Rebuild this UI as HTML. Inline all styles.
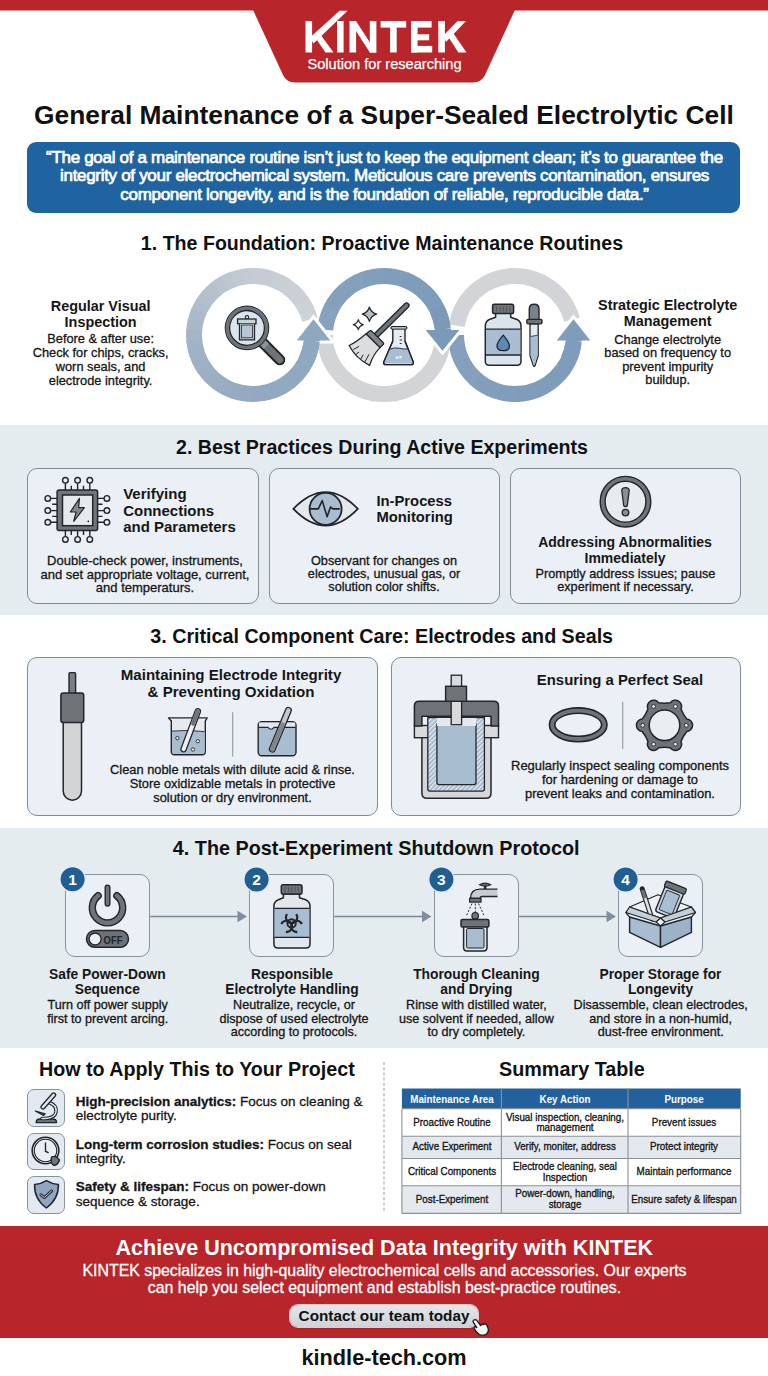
<!DOCTYPE html>
<html><head><meta charset="utf-8"><style>
html,body{margin:0;padding:0;}
body{width:768px;height:1376px;position:relative;overflow:hidden;background:#fff;font-family:"Liberation Sans",sans-serif;}
.a{position:absolute;}
.t{position:absolute;white-space:nowrap;}
svg{overflow:visible;}
</style></head><body>
<svg class="a" style="left:0;top:0" width="768" height="90" viewBox="0 0 768 90">
<rect x="0" y="0" width="768" height="10.5" fill="#b8252b"/>
<path d="M248.5 0 L519.5 0 L485 75 Q481.5 82.5 473 82.5 L295 82.5 Q286.5 82.5 283 75 Z" fill="#b8252b"/>
</svg>
<svg class="a" style="left:0;top:0" width="768" height="90" viewBox="0 0 768 90" fill="#fff"><rect x="305.5" y="21" width="6.6" height="31.5"/><path d="M310 37.5 L339.5 10.8 L347.5 10.8 L313.5 43.5 Z"/><path d="M315.5 38 L320.5 34.5 L333.5 52.5 L325.5 52.5 Z"/><rect x="337" y="21" width="6.6" height="31.5"/><rect x="349.5" y="21" width="6.6" height="31.5"/><rect x="369.8" y="21" width="6.6" height="31.5"/><path d="M349.5 21 L356 21 L376.4 52.5 L369.9 52.5 Z"/><rect x="380.6" y="21" width="25.6" height="6.6"/><rect x="390.1" y="21" width="6.6" height="31.5"/><rect x="411" y="21" width="6.6" height="31.5"/><rect x="411" y="21" width="20.6" height="6.6"/><rect x="411" y="34.3" width="18.2" height="6.0"/><rect x="411" y="45.9" width="21.2" height="6.6"/><rect x="438.3" y="21" width="6.6" height="31.5"/><path d="M443.5 35.5 L457.5 21 L466 21 L446 42 Z"/><path d="M447.5 35.5 L452.5 32 L466.5 52.5 L458.3 52.5 Z"/></svg>
<div class="t" style="top:55.44px;font-size:14.6px;line-height:18px;color:#fff;-webkit-text-stroke:0.3px #fff;left:264.50px;width:240px;text-align:center;-webkit-text-stroke:0.25px #fff;">Solution for researching</div>
<div class="t" style="top:98.67px;font-size:26.35px;line-height:32px;color:#111;font-weight:700;left:4.00px;width:760px;text-align:center;">General Maintenance of a Super-Sealed Electrolytic Cell</div>
<div class="a" style="left:27px;top:141.5px;width:713px;height:71px;background:#1f64a0;border-radius:9px;"></div>
<div class="t" style="top:148.81px;font-size:17px;line-height:18.6px;color:#fff;-webkit-text-stroke:0.7px #fff;letter-spacing:-0.31px;left:24.50px;width:720px;text-align:center;">“The goal of a maintenance routine isn’t just to keep the equipment clean; it’s to guarantee the<br>integrity of your electrochemical system. Meticulous care prevents contamination, ensures<br>component longevity, and is the foundation of reliable, reproducible data.”</div>
<div class="t" style="top:230.91px;font-size:19.6px;line-height:24px;color:#111;font-weight:700;left:82.00px;width:600px;text-align:center;">1. The Foundation: Proactive Maintenance Routines</div>
<div class="t" style="top:297.71px;font-size:14.4px;line-height:16.2px;color:#161616;font-weight:700;left:10.60px;width:180px;text-align:center;">Regular Visual<br>Inspection</div>
<div class="t" style="top:332.46px;font-size:12.8px;line-height:13.7px;color:#161616;-webkit-text-stroke:0.3px #161616;left:10.60px;width:180px;text-align:center;">Before &amp; after use:<br>Check for chips, cracks,<br>worn seals, and<br>electrode integrity.</div>
<div class="t" style="top:296.76px;font-size:14.4px;line-height:16.5px;color:#161616;font-weight:700;left:577.70px;width:180px;text-align:center;">Strategic Electrolyte<br>Management</div>
<div class="t" style="top:332.81px;font-size:12.8px;line-height:13.5px;color:#161616;-webkit-text-stroke:0.3px #161616;left:577.70px;width:180px;text-align:center;">Change electrolyte<br>based on frequency to<br>prevent impurity<br>buildup.</div>
<svg class="a" style="left:0;top:0" width="768" height="430" viewBox="0 0 768 430">
<path d="M456.73 325.77 A59 59 0 0 1 571.99 319.73" fill="none" stroke="#d3d4d7" stroke-width="16" />
<path d="M456.00 335.00 A59 59 0 0 0 461.10 359.00" fill="none" stroke="#85a0bd" stroke-width="16" />
<path d="M460.94 358.64 A59 59 0 0 0 475.24 378.59" fill="none" stroke="#83a0bc" stroke-width="16" />
<path d="M474.95 378.33 A59 59 0 0 0 496.04 390.87" fill="none" stroke="#829ebc" stroke-width="16" />
<path d="M495.67 390.74 A59 59 0 0 0 519.63 393.82" fill="none" stroke="#809ebb" stroke-width="16" />
<path d="M517.06 393.96 A59 59 0 0 0 573.73 340.65" fill="none" stroke="#7f9dbb" stroke-width="16" />
<path d="M566 340.6 L566 334 L582 334 L582 340.6" fill="#7f9dbb"/><path d="M573.5 319.2 L590.3 340.6 L556.7 340.6 Z" fill="#7f9dbb" stroke="#fff" stroke-width="6" stroke-linejoin="miter" paint-order="stroke"/>
<path d="M568.47 359.93 A59 59 0 0 0 573.73 340.65" fill="none" stroke="#7f9dbb" stroke-width="16" />
<rect x="566" y="338" width="16" height="3" fill="#7f9dbb"/><path d="M443.00 335.00 A59 59 0 0 1 325.00 335.00" fill="none" stroke="#d3d4d7" stroke-width="16" />
<path d="M325.22 329.86 A59 59 0 0 1 331.40 308.28" fill="none" stroke="#86a2be" stroke-width="16" />
<path d="M331.08 308.90 A59 59 0 0 1 344.66 291.03" fill="none" stroke="#85a0bd" stroke-width="16" />
<path d="M344.14 291.50 A59 59 0 0 1 363.27 279.76" fill="none" stroke="#83a0bd" stroke-width="16" />
<path d="M362.62 280.01 A59 59 0 0 1 384.70 276.00" fill="none" stroke="#829ebc" stroke-width="16" />
<path d="M384.00 276.00 A59 59 0 0 1 406.03 280.27" fill="none" stroke="#809ebc" stroke-width="16" />
<path d="M405.38 280.01 A59 59 0 0 1 424.37 291.98" fill="none" stroke="#7f9cbb" stroke-width="16" />
<path d="M423.86 291.50 A59 59 0 0 1 437.22 309.53" fill="none" stroke="#7d9cbb" stroke-width="16" />
<path d="M436.92 308.90 A59 59 0 0 1 442.78 329.86" fill="none" stroke="#7c9aba" stroke-width="16" />
<path d="M435 330 L435 336 L451 336 L451 330" fill="#7b9aba"/><path d="M442.5 350.8 L459.3 330 L425.7 330 Z" fill="#7b9aba" stroke="#fff" stroke-width="6" stroke-linejoin="miter" paint-order="stroke"/>
<path d="M437.47 310.07 A59 59 0 0 1 442.73 329.35" fill="none" stroke="#7b9aba" stroke-width="16" />
<rect x="435" y="329" width="16" height="3" fill="#7b9aba"/><path d="M309.99 319.73 A59 59 0 0 0 306.12 309.32" fill="none" stroke="#cfd2d7" stroke-width="16" />
<path d="M306.71 310.59 A59 59 0 0 0 301.18 300.95" fill="none" stroke="#ced2d6" stroke-width="16" />
<path d="M301.98 302.10 A59 59 0 0 0 294.94 293.50" fill="none" stroke="#ccd0d6" stroke-width="16" />
<path d="M295.92 294.51 A59 59 0 0 0 287.56 287.18" fill="none" stroke="#cbd0d5" stroke-width="16" />
<path d="M288.69 288.02 A59 59 0 0 0 279.25 282.16" fill="none" stroke="#caced5" stroke-width="16" />
<path d="M280.50 282.80 A59 59 0 0 0 270.22 278.57" fill="none" stroke="#c8ced5" stroke-width="16" />
<path d="M271.56 278.99 A59 59 0 0 0 260.73 276.51" fill="none" stroke="#c7ccd4" stroke-width="16" />
<path d="M262.12 276.71 A59 59 0 0 0 251.03 276.03" fill="none" stroke="#c5ccd4" stroke-width="16" />
<path d="M252.43 276.00 A59 59 0 0 0 241.38 277.16" fill="none" stroke="#c4cad3" stroke-width="16" />
<path d="M242.75 276.90 A59 59 0 0 0 232.04 279.85" fill="none" stroke="#c1c9d2" stroke-width="16" />
<path d="M233.36 279.37 A59 59 0 0 0 223.28 284.03" fill="none" stroke="#bec6d1" stroke-width="16" />
<path d="M224.50 283.34 A59 59 0 0 0 215.32 289.60" fill="none" stroke="#bac4d0" stroke-width="16" />
<path d="M216.41 288.72 A59 59 0 0 0 208.38 296.40" fill="none" stroke="#b6c1ce" stroke-width="16" />
<path d="M209.31 295.35 A59 59 0 0 0 202.65 304.24" fill="none" stroke="#b2bfcd" stroke-width="16" />
<path d="M203.39 303.06 A59 59 0 0 0 198.29 312.92" fill="none" stroke="#afbdcc" stroke-width="16" />
<path d="M198.83 311.63 A59 59 0 0 0 195.40 322.20" fill="none" stroke="#abbaca" stroke-width="16" />
<path d="M195.72 320.84 A59 59 0 0 0 194.09 331.83" fill="none" stroke="#a8b8c9" stroke-width="16" />
<path d="M194.18 330.43 A59 59 0 0 0 194.36 341.54" fill="none" stroke="#a4b5c8" stroke-width="16" />
<path d="M194.22 340.14 A59 59 0 0 0 196.23 351.07" fill="none" stroke="#a1b3c7" stroke-width="16" />
<path d="M195.86 349.72 A59 59 0 0 0 199.64 360.17" fill="none" stroke="#a0b2c6" stroke-width="16" />
<path d="M199.05 358.89 A59 59 0 0 0 204.49 368.58" fill="none" stroke="#9eb1c5" stroke-width="16" />
<path d="M203.71 367.42 A59 59 0 0 0 210.66 376.09" fill="none" stroke="#9cb0c5" stroke-width="16" />
<path d="M209.69 375.07 A59 59 0 0 0 217.97 382.48" fill="none" stroke="#9aaec4" stroke-width="16" />
<path d="M216.86 381.63 A59 59 0 0 0 226.24 387.58" fill="none" stroke="#99adc3" stroke-width="16" />
<path d="M225.00 386.93 A59 59 0 0 0 235.23 391.26" fill="none" stroke="#97acc3" stroke-width="16" />
<path d="M233.90 390.82 A59 59 0 0 0 244.70 393.41" fill="none" stroke="#96abc2" stroke-width="16" />
<path d="M243.32 393.20 A59 59 0 0 0 254.40 393.98" fill="none" stroke="#94aac1" stroke-width="16" />
<path d="M253.00 394.00 A59 59 0 0 0 264.06 392.95" fill="none" stroke="#93a9c1" stroke-width="16" />
<path d="M262.68 393.20 A59 59 0 0 0 273.42 390.35" fill="none" stroke="#92a9c1" stroke-width="16" />
<path d="M272.10 390.82 A59 59 0 0 0 282.23 386.25" fill="none" stroke="#92a9c1" stroke-width="16" />
<path d="M281.00 386.93 A59 59 0 0 0 290.24 380.76" fill="none" stroke="#91a9c1" stroke-width="16" />
<path d="M289.14 381.63 A59 59 0 0 0 297.24 374.03" fill="none" stroke="#90a8c2" stroke-width="16" />
<path d="M296.31 375.07 A59 59 0 0 0 303.05 366.24" fill="none" stroke="#90a8c2" stroke-width="16" />
<path d="M302.29 367.42 A59 59 0 0 0 307.50 357.61" fill="none" stroke="#8fa8c2" stroke-width="16" />
<path d="M306.95 358.89 A59 59 0 0 0 310.47 348.36" fill="none" stroke="#8fa8c2" stroke-width="16" />
<path d="M310.14 349.72 A59 59 0 0 0 311.78 340.14" fill="none" stroke="#8ea8c2" stroke-width="16" />
<path d="M313.5 319.2 L330.3 340.6 L296.7 340.6 Z" fill="#8ea8c2" stroke="#fff" stroke-width="6" stroke-linejoin="miter" paint-order="stroke"/>
<path d="M306.47 359.93 A59 59 0 0 0 311.73 340.65" fill="none" stroke="#8ea8c2" stroke-width="16" />
<rect x="304" y="338" width="16" height="3" fill="#8ea8c2"/></svg>
<svg class="a" style="left:0;top:0" width="768" height="430" viewBox="0 0 768 430">
<path d="M263 343 L279.8 359.8" stroke="#22262b" stroke-width="11" stroke-linecap="round"/><path d="M263 343 L279.8 359.8" stroke="#6e7379" stroke-width="7" stroke-linecap="round"/><path d="M262 342 L266.5 346.5" stroke="#8d9297" stroke-width="7"/><circle cx="247" cy="327.9" r="21.2" fill="#dbe4ec" stroke="#22262b" stroke-width="2.2"/><circle cx="247" cy="327.9" r="19.6" fill="none" stroke="#6e7379" stroke-width="3.6"/><circle cx="247" cy="327.9" r="17.4" fill="none" stroke="#22262b" stroke-width="1.3"/><circle cx="247" cy="317.3" r="1.7" fill="#eef2f5" stroke="#22262b" stroke-width="1.1"/><rect x="237.6" y="319" width="18.4" height="4.8" fill="#c9d3dc" stroke="#22262b" stroke-width="1.3"/><path d="M239.5 323.8 L239.5 339.8 L254.5 339.8 L254.5 323.8" fill="#c9d3dc" stroke="#22262b" stroke-width="1.3"/><rect x="241.5" y="325" width="11" height="12.8" fill="#b8c6d3" stroke="#22262b" stroke-width="0.8"/><path d="M406.5 305.5 L377 334.5" stroke="#22262b" stroke-width="6.2" stroke-linecap="round"/><path d="M406.5 305.5 L377 334.5" stroke="#6e7379" stroke-width="3.6" stroke-linecap="round"/><path d="M366.1 333.8 Q356 342.5 349.1 345.5 Q356 358.5 369.6 365.4 Q373 354.5 380.1 347.6 Z" fill="#dcdddf" stroke="#22262b" stroke-width="1.3" stroke-linejoin="round"/><path d="M353.2 349.6 L359.1 346.4 M356.1 354.3 L359.1 352 M360.8 359 L363.2 354.6 M364.9 361.9 L369 354.3" stroke="#22262b" stroke-width="1"/><path d="M366.1 333.8 L369.6 330.9 Q370.5 330.2 371.5 330.9 L383.4 342.8 Q384 343.6 383.4 344.3 L380.1 347.6 Z" fill="#7d848b" stroke="#22262b" stroke-width="1.3" stroke-linejoin="round"/><path d="M369.4 307.0 Q370.984 312.616 376.59999999999997 314.2 Q370.984 315.784 369.4 321.4 Q367.816 315.784 362.2 314.2 Q367.816 312.616 369.4 307.0 Z" fill="#b9bec3" stroke="#22262b" stroke-width="1.2" stroke-linejoin="round"/><path d="M358.3 319.6 Q359.40000000000003 323.5 363.3 324.6 Q359.40000000000003 325.70000000000005 358.3 329.6 Q357.2 325.70000000000005 353.3 324.6 Q357.2 323.5 358.3 319.6 Z" fill="#ffffff" stroke="#22262b" stroke-width="1.2" stroke-linejoin="round"/><path d="M392.8 328.5 L405 328.5 L405 341 L413.2 362 Q414 364.6 411 364.6 L386 364.6 Q383 364.6 383.8 362 L392.8 341 Z" fill="#e6ecf1" stroke="#22262b" stroke-width="1.4" stroke-linejoin="round"/><path d="M388.7 349.5 Q395 347 399 348.2 Q404 349.5 408.6 348.8 L413 361.8 Q413.5 363.6 411 363.6 L386 363.6 Q383.6 363.6 384.2 361.8 Z" fill="#a8bcd2"/><path d="M388.7 349.5 Q395 347 399 348.2 Q404 349.5 408.6 348.8" fill="none" stroke="#22262b" stroke-width="0.9"/><path d="M392.8 341 L383.8 362 Q383 364.6 386 364.6 L411 364.6 Q414 364.6 413.2 362 L405 341" fill="none" stroke="#22262b" stroke-width="1.4" stroke-linejoin="round"/><rect x="391" y="326.6" width="15.8" height="2.4" rx="1" fill="#e6ecf1" stroke="#22262b" stroke-width="1.2"/><path d="M399.7 336.5 L401.5 336.5 M399.7 340 L402 340 M399.7 343.5 L401.5 343.5" stroke="#22262b" stroke-width="1"/><circle cx="397" cy="357.5" r="1.5" fill="#e9eef3"/><circle cx="400.5" cy="357.2" r="1.4" fill="#e9eef3"/><path d="M495.6 313.3 L510.7 313.3 L510.7 317.3 L517 319.5 Q521 321.5 521 326 L521 361.3 Q521 365.3 517 365.3 L489.3 365.3 Q485.3 365.3 485.3 361.3 L485.3 326 Q485.3 321.5 489.3 319.5 L495.6 317.3 Z" fill="#dbe4ec" stroke="#22262b" stroke-width="1.5" stroke-linejoin="round"/><rect x="486" y="329.2" width="34.3" height="25.8" fill="#a8bcd2"/><path d="M485.8 329.2 L520.5 329.2 M485.8 355 L520.5 355" stroke="#22262b" stroke-width="1.3"/><rect x="492.6" y="304.3" width="21" height="9.3" rx="1.8" fill="#6e7379" stroke="#22262b" stroke-width="1.5"/><path d="M496.5 306.5 V311.5 M500 306.5 V311.5 M503.3 306.5 V311.5 M506.6 306.5 V311.5 M510 306.5 V311.5" stroke="#4a4e53" stroke-width="0.8"/><path d="M503.2 335.2 Q497 342.5 497 346 Q497 350.7 503.2 350.7 Q509.4 350.7 509.4 346 Q509.4 342.5 503.2 335.2 Z" fill="#5f88b2" stroke="#22262b" stroke-width="1.3"/><path d="M530 323.8 L530 355.5 L533.3 365.6 Q534.2 367 535.1 365.6 L538.2 355.5 L538.2 323.8 Z" fill="#e4eaf0" stroke="#22262b" stroke-width="1.3" stroke-linejoin="round"/><path d="M530.6 336.5 L537.6 335.2 L537.6 355.3 L534.7 364.5 L533.6 364.5 L530.6 355.3 Z" fill="#a8bcd2"/><path d="M530.4 336.5 L537.8 335.2" stroke="#22262b" stroke-width="0.8"/><path d="M529.3 320 L529.3 309 Q529.3 304.3 534.2 304.3 Q539 304.3 539 309 L539 320 Z" fill="#7c8187" stroke="#22262b" stroke-width="1.4"/><rect x="526.8" y="319.4" width="15.2" height="4.4" rx="1.2" fill="#6e7379" stroke="#22262b" stroke-width="1.3"/></svg>
<div class="a" style="left:0px;top:425px;width:768px;height:189.5px;background:#e5ecf0;"></div>
<div class="t" style="top:435.21px;font-size:19.6px;line-height:24px;color:#111;font-weight:700;left:82.00px;width:600px;text-align:center;">2. Best Practices During Active Experiments</div>
<div class="a" style="left:27px;top:467.5px;width:231.5px;height:136px;background:#eaf0f5;border:1.5px solid #838b94;border-radius:10px;box-sizing:border-box;"></div>
<div class="a" style="left:269px;top:467.5px;width:230.5px;height:136px;background:#eaf0f5;border:1.5px solid #838b94;border-radius:10px;box-sizing:border-box;"></div>
<div class="a" style="left:510px;top:467.5px;width:231px;height:136px;background:#eaf0f5;border:1.5px solid #838b94;border-radius:10px;box-sizing:border-box;"></div>
<div class="t" style="top:486.05px;font-size:15px;line-height:16.5px;color:#161616;font-weight:700;left:123.2px;">Verifying<br>Connections<br>and Parameters</div>
<div class="t" style="top:554.45px;font-size:13.0px;line-height:13.3px;color:#161616;-webkit-text-stroke:0.3px #161616;left:30.00px;width:230px;text-align:center;">Double-check power, instruments,<br>and set appropriate voltage, current,<br>and temperaturs.</div>
<div class="t" style="top:492.57px;font-size:14.8px;line-height:16.6px;color:#161616;font-weight:700;left:376.4px;">In-Process<br>Monitoring</div>
<div class="t" style="top:554.55px;font-size:12.7px;line-height:13.3px;color:#161616;-webkit-text-stroke:0.3px #161616;left:269.00px;width:230px;text-align:center;">Observant for changes on<br>electrodes, unusual gas, or<br>solution color shifts.</div>
<div class="t" style="top:534.95px;font-size:14.0px;line-height:15.6px;color:#161616;font-weight:700;left:510.00px;width:230px;text-align:center;">Addressing Abnormalities<br>Immediately</div>
<div class="t" style="top:567.60px;font-size:12.7px;line-height:13.8px;color:#161616;-webkit-text-stroke:0.3px #161616;left:510.50px;width:230px;text-align:center;">Promptly address issues; pause<br>experiment if necessary.</div>
<svg class="a" style="left:0;top:420px" width="768" height="200" viewBox="0 420 768 200">
<path d="M65.4 483.2 V490 M65.4 530.6 V536.6 M77.6 483.2 V490 M77.6 530.6 V536.6 M89.8 483.2 V490 M89.8 530.6 V536.6 M71.3 485.7 V490 M71.3 530.6 V535 M83.5 485.7 V490 M83.5 530.6 V535 M50.7 498.4 H57.1 M97.6 498.4 H104 M50.7 510.6 H57.1 M97.6 510.6 H104 M50.7 522.3 H57.1 M97.6 522.3 H104 M52.2 504.2 H57.1 M97.6 504.2 H102.5 M52.2 516.4 H57.1 M97.6 516.4 H102.5 " stroke="#22262b" stroke-width="1.4"/><circle cx="65.4" cy="480.3" r="2.8" fill="#e8ecef" stroke="#22262b" stroke-width="1.4"/><circle cx="65.4" cy="539.4" r="2.8" fill="#e8ecef" stroke="#22262b" stroke-width="1.4"/><circle cx="77.6" cy="480.3" r="2.8" fill="#e8ecef" stroke="#22262b" stroke-width="1.4"/><circle cx="77.6" cy="539.4" r="2.8" fill="#e8ecef" stroke="#22262b" stroke-width="1.4"/><circle cx="89.8" cy="480.3" r="2.8" fill="#e8ecef" stroke="#22262b" stroke-width="1.4"/><circle cx="89.8" cy="539.4" r="2.8" fill="#e8ecef" stroke="#22262b" stroke-width="1.4"/><circle cx="47.8" cy="498.4" r="2.8" fill="#e8ecef" stroke="#22262b" stroke-width="1.4"/><circle cx="106.9" cy="498.4" r="2.8" fill="#e8ecef" stroke="#22262b" stroke-width="1.4"/><circle cx="47.8" cy="510.6" r="2.8" fill="#e8ecef" stroke="#22262b" stroke-width="1.4"/><circle cx="106.9" cy="510.6" r="2.8" fill="#e8ecef" stroke="#22262b" stroke-width="1.4"/><circle cx="47.8" cy="522.3" r="2.8" fill="#e8ecef" stroke="#22262b" stroke-width="1.4"/><circle cx="106.9" cy="522.3" r="2.8" fill="#e8ecef" stroke="#22262b" stroke-width="1.4"/><rect x="57.1" y="490" width="40.5" height="40.6" rx="2" fill="#70757a" stroke="#22262b" stroke-width="1.5"/><rect x="62.5" y="495" width="30.2" height="30.7" fill="#e6eaee" stroke="#22262b" stroke-width="1.5"/><path d="M79.5 498.4 L70.3 512 L76.1 512 L73.7 521.3 L84.4 507.6 L78.6 507.6 Z" fill="#85898e" stroke="#22262b" stroke-width="1.2" stroke-linejoin="round"/><circle cx="88.3" cy="521.3" r="0.9" fill="#22262b"/><path d="M293.4 508.9 Q325.6 475.5 357.8 508.9 Q325.6 542.3 293.4 508.9 Z" fill="#e3e8ec" stroke="#22262b" stroke-width="1.8" stroke-linejoin="miter"/><circle cx="325.6" cy="508.9" r="16" fill="#a9bdd0" stroke="#22262b" stroke-width="1.8"/><path d="M310 508.9 L318.3 508.9 L322.2 500.6 L327.1 516.7 L330.5 507 L332.9 508.9 L339.8 508.9" fill="none" stroke="#22262b" stroke-width="1.6" stroke-linejoin="round"/><circle cx="625.5" cy="501.7" r="22.9" fill="#e8ecef" stroke="#70757a" stroke-width="5"/><circle cx="625.5" cy="501.7" r="25.3" fill="none" stroke="#22262b" stroke-width="1.4"/><circle cx="625.5" cy="501.7" r="20.4" fill="none" stroke="#22262b" stroke-width="1.4"/><path d="M621.8 490.5 Q621.8 487.6 625.5 487.6 Q629.2 487.6 629.2 490.5 L627.3 505.5 Q627 506.6 625.5 506.6 Q624 506.6 623.7 505.5 Z" fill="#8a8e93" stroke="#22262b" stroke-width="1.3" stroke-linejoin="round"/><circle cx="625.5" cy="512.6" r="3.3" fill="#8a8e93" stroke="#22262b" stroke-width="1.3"/></svg>
<div class="t" style="top:624.17px;font-size:19.7px;line-height:24px;color:#111;font-weight:700;left:81.70px;width:600px;text-align:center;">3. Critical Component Care: Electrodes and Seals</div>
<div class="a" style="left:27px;top:657.3px;width:350.5px;height:159px;background:#eaf0f5;border:1.5px solid #838b94;border-radius:10px;box-sizing:border-box;"></div>
<div class="a" style="left:390.5px;top:657.3px;width:350.5px;height:159px;background:#eaf0f5;border:1.5px solid #838b94;border-radius:10px;box-sizing:border-box;"></div>
<div class="t" style="top:667.32px;font-size:15.1px;line-height:16.3px;color:#161616;font-weight:700;left:81.00px;width:300px;text-align:center;">Maintaining Electrode Integrity<br>&amp; Preventing Oxidation</div>
<div class="t" style="top:763.05px;font-size:12.85px;line-height:14.2px;color:#161616;-webkit-text-stroke:0.3px #161616;left:82.50px;width:300px;text-align:center;">Clean noble metals with dilute acid &amp; rinse.<br>Store oxidizable metals in protective<br>solution or dry environment.</div>
<div class="t" style="top:671.64px;font-size:14.9px;line-height:17px;color:#161616;font-weight:700;left:470.00px;width:300px;text-align:center;">Ensuring a Perfect Seal</div>
<div class="t" style="top:758.66px;font-size:12.95px;line-height:14.1px;color:#161616;-webkit-text-stroke:0.3px #161616;left:470.00px;width:300px;text-align:center;">Regularly inspect sealing components<br>for hardening or damage to<br>prevent leaks and contamination.</div>
<svg class="a" style="left:0;top:650px" width="768" height="180" viewBox="0 650 768 180">
<defs><pattern id="hatch" patternUnits="userSpaceOnUse" width="3.2" height="3.2" patternTransform="rotate(45)"><rect width="3.2" height="3.2" fill="#a9bdd1"/><rect width="1" height="3.2" fill="#eef2f5"/></pattern></defs><rect x="69" y="672.6" width="6.6" height="21" rx="1" fill="#7a7f85" stroke="#22262b" stroke-width="1.4"/><path d="M63.2 722 L63.2 791 A9.15 9.15 0 0 0 81.5 791 L81.5 722 Z" fill="#d3d4d5" stroke="#22262b" stroke-width="1.5"/><rect x="60.9" y="693" width="22.8" height="29.5" rx="2.2" fill="#6e7378" stroke="#22262b" stroke-width="1.5"/><path d="M168.5 717.9 L207.2 717.9 L205.3 721 L205.3 751.5 Q205.3 754.7 202 754.7 L174.6 754.7 Q171.3 754.7 171.3 751.5 L171.3 721 Z" fill="#e6eaee" stroke="#22262b" stroke-width="1.4" stroke-linejoin="round"/><path d="M172 731.1 Q188 729.5 204.6 731.6 L204.6 751.5 Q204.6 754 202 754 L174.6 754 Q172 754 172 751.5 Z" fill="#a9bdd1"/><path d="M172 731.1 Q188 729.5 204.6 731.6" fill="none" stroke="#22262b" stroke-width="0.9"/><circle cx="177.4" cy="738.1" r="1.7" fill="#eef2f5" stroke="#22262b" stroke-width="0.9"/><circle cx="197.8" cy="741.2" r="1.7" fill="#eef2f5" stroke="#22262b" stroke-width="0.9"/><circle cx="193" cy="749.5" r="1.7" fill="#eef2f5" stroke="#22262b" stroke-width="0.9"/><path d="M197.8 711.3 L183.6 749.1" stroke="#22262b" stroke-width="6.6" stroke-linecap="round"/><path d="M197.8 711.3 L183.6 749.1" stroke="#eef1f4" stroke-width="4" stroke-linecap="round"/><path d="M197.8 711.3 L193.1 723.8" stroke="#6e7378" stroke-width="4" stroke-linecap="round"/><path d="M232.7 712.3 V756.6" stroke="#9aa0a6" stroke-width="1.2"/><rect x="258.2" y="721.7" width="37.8" height="34" rx="3.5" fill="#a9bdd1" stroke="#22262b" stroke-width="1.4"/><path d="M259 722.5 L295.2 722.5 L295.2 727.4 L274 727.4 Q271 731 268 727.4 L259 727.4 Z" fill="#e2e8ed"/><path d="M258.6 727.4 L268 727.4 Q271 731 274 727.4 L295.6 727.4" fill="none" stroke="#22262b" stroke-width="1.1"/><path d="M288.4 710.4 L272.3 749.1" stroke="#22262b" stroke-width="7" stroke-linecap="round"/><path d="M288.4 710.4 L272.3 749.1" stroke="#c4c7ca" stroke-width="4.4" stroke-linecap="round"/><path d="M282.5 724.6 L272.3 749.1" stroke="#80858a" stroke-width="4.4" stroke-linecap="round"/><path d="M421.9 737.7 L421.9 793 Q421.9 798.3 427 798.3 L486 798.3 Q491 798.3 491 793 L491 737.7" fill="#d5d6d7" stroke="#22262b" stroke-width="1.5"/><rect x="414.4" y="725.5" width="84.1" height="12.2" fill="#d9dadb" stroke="#22262b" stroke-width="1.4"/><path d="M427.8 717.5 L427.8 789 Q427.8 791.1 430 791.1 L482.2 791.1 Q484.4 791.1 484.4 789 L484.4 717.5 Z" fill="url(#hatch)" stroke="#22262b" stroke-width="1.3"/><path d="M436.9 724 L436.9 782.6 Q436.9 784.6 439 784.6 L474 784.6 Q476 784.6 476 782.6 L476 724 Z" fill="#a9bdd1" stroke="#22262b" stroke-width="1.3"/><path d="M436.9 718 L476 718 L476 726 L436.9 726 Z" fill="#e5e9ed"/><path d="M414.4 726 L414.4 706 Q414.4 701.25 419 701.25 L494 701.25 Q498.5 701.25 498.5 706 L498.5 726 L491 726 L491 716.2 L421.9 716.2 L421.9 726 Z" fill="#6e7378" stroke="#22262b" stroke-width="1.5" stroke-linejoin="round"/><rect x="451.2" y="675.2" width="10.4" height="49.5" fill="#d8dadc" stroke="#22262b" stroke-width="1.3"/><rect x="445.6" y="686.3" width="20.9" height="15" fill="#6e7378" stroke="#22262b" stroke-width="1.4"/><ellipse cx="578.2" cy="724.8" rx="26.1" ry="14.2" fill="none" stroke="#22262b" stroke-width="7"/><ellipse cx="578.2" cy="724.8" rx="26.1" ry="14.2" fill="none" stroke="#6e7378" stroke-width="3.8"/><path d="M622.7 701.8 V748.7" stroke="#9aa0a6" stroke-width="1.2"/><path d="M686.84 719.12 A6.2 6.2 0 0 1 686.84 731.48 Q683.12 736.05 681.02 741.56 L681.02 741.56 A6.2 6.2 0 0 1 670.32 747.74 Q664.50 746.80 658.68 747.74 L658.68 747.74 A6.2 6.2 0 0 1 647.98 741.56 Q645.88 736.05 642.16 731.48 L642.16 731.48 A6.2 6.2 0 0 1 642.16 719.12 Q645.88 714.55 647.98 709.04 L647.98 709.04 A6.2 6.2 0 0 1 658.68 702.86 Q664.50 703.80 670.32 702.86 L670.32 702.86 A6.2 6.2 0 0 1 681.02 709.04 Q683.12 714.55 686.84 719.12 Z" fill="#6e7378" stroke="#22262b" stroke-width="1.5" stroke-linejoin="round"/><circle cx="664.5" cy="725.3" r="15.3" fill="#e9eef2" stroke="#22262b" stroke-width="1.5"/><circle cx="686.30" cy="725.30" r="1.9" fill="#e9eef2" stroke="#22262b" stroke-width="0.9"/><circle cx="675.40" cy="744.18" r="1.9" fill="#e9eef2" stroke="#22262b" stroke-width="0.9"/><circle cx="653.60" cy="744.18" r="1.9" fill="#e9eef2" stroke="#22262b" stroke-width="0.9"/><circle cx="642.70" cy="725.30" r="1.9" fill="#e9eef2" stroke="#22262b" stroke-width="0.9"/><circle cx="653.60" cy="706.42" r="1.9" fill="#e9eef2" stroke="#22262b" stroke-width="0.9"/><circle cx="675.40" cy="706.42" r="1.9" fill="#e9eef2" stroke="#22262b" stroke-width="0.9"/></svg>
<div class="a" style="left:0px;top:827.5px;width:768px;height:220.5px;background:#e5ecf0;"></div>
<div class="t" style="top:836.44px;font-size:19.8px;line-height:24px;color:#111;font-weight:700;left:76.20px;width:600px;text-align:center;">4. The Post-Experiment Shutdown Protocol</div>
<div class="a" style="left:65.2px;top:874.3px;width:85px;height:83px;background:#eaf0f5;border:1.5px solid #8a929b;border-radius:10px;box-sizing:border-box;"></div>
<div class="a" style="left:249.2px;top:874.3px;width:85px;height:83px;background:#eaf0f5;border:1.5px solid #8a929b;border-radius:10px;box-sizing:border-box;"></div>
<div class="a" style="left:433.8px;top:874.3px;width:85px;height:83px;background:#eaf0f5;border:1.5px solid #8a929b;border-radius:10px;box-sizing:border-box;"></div>
<div class="a" style="left:618.3px;top:874.3px;width:85px;height:83px;background:#eaf0f5;border:1.5px solid #8a929b;border-radius:10px;box-sizing:border-box;"></div>
<div class="t" style="top:966.62px;font-size:13.8px;line-height:15.2px;color:#161616;font-weight:700;left:7.30px;width:200px;text-align:center;">Safe Power-Down<br>Sequence</div>
<div class="t" style="top:966.62px;font-size:13.8px;line-height:15.2px;color:#161616;font-weight:700;left:192.00px;width:200px;text-align:center;">Responsible<br>Electrolyte Handling</div>
<div class="t" style="top:966.62px;font-size:13.8px;line-height:15.2px;color:#161616;font-weight:700;left:376.40px;width:200px;text-align:center;">Thorough Cleaning<br>and Drying</div>
<div class="t" style="top:966.62px;font-size:13.8px;line-height:15.2px;color:#161616;font-weight:700;left:560.50px;width:200px;text-align:center;">Proper Storage for<br>Longevity</div>
<div class="t" style="top:999.13px;font-size:12.6px;line-height:13.4px;color:#161616;-webkit-text-stroke:0.3px #161616;left:7.70px;width:200px;text-align:center;">Turn off power supply<br>first to prevent arcing.</div>
<div class="t" style="top:999.13px;font-size:12.6px;line-height:13.4px;color:#161616;-webkit-text-stroke:0.3px #161616;left:194.00px;width:200px;text-align:center;">Neutralize, recycle, or<br>dispose of used electrolyte<br>according to protocols.</div>
<div class="t" style="top:999.13px;font-size:12.6px;line-height:13.4px;color:#161616;-webkit-text-stroke:0.3px #161616;left:376.40px;width:200px;text-align:center;">Rinse with distilled water,<br>use solvent if needed, allow<br>to dry completely.</div>
<div class="t" style="top:999.13px;font-size:12.6px;line-height:13.4px;color:#161616;-webkit-text-stroke:0.3px #161616;left:560.70px;width:200px;text-align:center;">Disassemble, clean electrodes,<br>and store in a non-humid,<br>dust-free environment.</div>
<svg class="a" style="left:0;top:860px" width="768" height="110" viewBox="0 860 768 110" font-family="Liberation Sans, sans-serif">
<path d="M150.2 916.5 H239" stroke="#7b8796" stroke-width="1.6"/><path d="M237.5 910.8 L247 916.5 L237.5 922.2 Z" fill="#7e8da0"/><path d="M334.2 916.5 H423.5" stroke="#7b8796" stroke-width="1.6"/><path d="M422.0 910.8 L431.5 916.5 L422.0 922.2 Z" fill="#7e8da0"/><path d="M519.2 916.5 H608" stroke="#7b8796" stroke-width="1.6"/><path d="M606.5 910.8 L616 916.5 L606.5 922.2 Z" fill="#7e8da0"/><circle cx="72.6" cy="879.3" r="12.6" fill="#1f5f94" stroke="#e8eef3" stroke-width="1.2"/><text x="72.6" y="884.5999999999999" text-anchor="middle" font-size="15.5" font-weight="700" fill="#fff">1</text><circle cx="256.6" cy="879.5" r="12.6" fill="#1f5f94" stroke="#e8eef3" stroke-width="1.2"/><text x="256.6" y="884.8" text-anchor="middle" font-size="15.5" font-weight="700" fill="#fff">2</text><circle cx="441.4" cy="879.5" r="12.6" fill="#1f5f94" stroke="#e8eef3" stroke-width="1.2"/><text x="441.4" y="884.8" text-anchor="middle" font-size="15.5" font-weight="700" fill="#fff">3</text><circle cx="625.6" cy="879.5" r="12.6" fill="#1f5f94" stroke="#e8eef3" stroke-width="1.2"/><text x="625.6" y="884.8" text-anchor="middle" font-size="15.5" font-weight="700" fill="#fff">4</text><path d="M116.86 895.72 A15.2 15.2 0 1 1 98.14 895.72" fill="none" stroke="#22262b" stroke-width="7.4" stroke-linecap="round"/><path d="M116.86 895.72 A15.2 15.2 0 1 1 98.14 895.72" fill="none" stroke="#6e7378" stroke-width="4.6" stroke-linecap="round"/><path d="M107.5 887.5 V903.8" stroke="#22262b" stroke-width="6" stroke-linecap="round"/><path d="M107.5 887.5 V903.8" stroke="#6e7378" stroke-width="3.3" stroke-linecap="round"/><rect x="86.5" y="930.6" width="42" height="16.7" rx="8.35" fill="#6e7378" stroke="#22262b" stroke-width="1.5"/><circle cx="95.1" cy="939" r="6" fill="#eceff2" stroke="#22262b" stroke-width="1.3"/><text x="103.5" y="943.6" font-size="11.5" font-weight="700" fill="#22262b" textLength="19" lengthAdjust="spacingAndGlyphs">OFF</text><path d="M283.4 894 L299.5 894 L299.5 897.8 L305 899.5 Q310 901.5 310 906 L310 943.9 Q310 947.9 306 947.9 L277.9 947.9 Q273.9 947.9 273.9 943.9 L273.9 906 Q273.9 901.5 278.9 899.5 L283.4 897.8 Z" fill="#e1e7ec" stroke="#22262b" stroke-width="1.5" stroke-linejoin="round"/><rect x="274.6" y="908.3" width="34.7" height="29.1" fill="#a9bdd1"/><path d="M274.4 908.3 H309.5 M274.4 937.4 H309.5" stroke="#22262b" stroke-width="1.3"/><rect x="281.3" y="884.8" width="20.7" height="9.3" rx="1.8" fill="#6e7378" stroke="#22262b" stroke-width="1.5"/><path d="M285 887 V892 M288.5 887 V892 M291.7 887 V892 M295 887 V892 M298.4 887 V892" stroke="#4a4e53" stroke-width="0.8"/><g transform="translate(291.6,923.4)" fill="none" stroke="#22262b"><path d="M4.59 -9.21 A5.6 5.6 0 1 1 -4.59 -9.21" stroke-width="2.3"/><path d="M5.68 8.58 A5.6 5.6 0 1 1 10.27 0.63" stroke-width="2.3"/><path d="M-10.27 0.63 A5.6 5.6 0 1 1 -5.68 8.58" stroke-width="2.3"/><circle cx="0" cy="0" r="4.2" stroke-width="2"/><circle cx="0" cy="0" r="1.4" fill="#22262b" stroke="none"/></g><path d="M497.5 889.1 H480 Q470.5 889.1 470.5 898.5 L480.2 898.5 Q480.2 896.5 482 896.5 H497.5" fill="#c9ccd0" stroke="#22262b" stroke-width="1.4" stroke-linejoin="round"/><rect x="469.6" y="898.3" width="11.4" height="3.8" fill="#6e7378" stroke="#22262b" stroke-width="1.2"/><path d="M485.1 889 V885.5" stroke="#22262b" stroke-width="2.5"/><path d="M479.5 884.8 Q485.1 881.5 490.7 884.8 Q485.1 887.5 479.5 884.8 Z" fill="#6e7378" stroke="#22262b" stroke-width="1.2"/><path d="M472 903.5 L466.5 915.5 M475.3 903.5 V913 M478.5 903.5 L484 915.5" stroke="#22262b" stroke-width="1" stroke-dasharray="2 1.6"/><circle cx="475.2" cy="915.8" r="3.3" fill="#6e7378" stroke="#22262b" stroke-width="1.2"/><path d="M463.6 926.5 V947.5 Q463.6 951 467 951 H483.5 Q487 951 487 947.5 V926.5" fill="#dfe4e9" stroke="#22262b" stroke-width="1.5"/><rect x="466.6" y="928.5" width="17.4" height="19.5" rx="1.2" fill="#a9bdd1" stroke="#22262b" stroke-width="1"/><rect x="461" y="919.4" width="27.9" height="7.5" rx="1.5" fill="#6e7378" stroke="#22262b" stroke-width="1.5"/><path d="M629.6 907 L658 894.7 L691.4 907 L660.5 918 Z" fill="#eef1f4" stroke="#22262b" stroke-width="1.2" stroke-linejoin="round"/><g transform="rotate(22 670 901)"><rect x="660" y="885" width="20" height="31" rx="2.5" fill="#c5d2df" stroke="#22262b" stroke-width="1.4"/><rect x="663" y="892" width="14" height="21" rx="1.5" fill="#a9bdd1" stroke="#22262b" stroke-width="0.9"/><rect x="659" y="883.6" width="22" height="6" rx="1.5" fill="#6e7378" stroke="#22262b" stroke-width="1.3"/></g><path d="M642.2 888.8 L652 919" stroke="#22262b" stroke-width="5" stroke-linecap="round"/><path d="M645 897.5 L652 919" stroke="#dfe3e7" stroke-width="2.6" stroke-linecap="round"/><path d="M642.6 890 L645.2 898.2" stroke="#6e7378" stroke-width="3.2"/><path d="M629.6 917 L660.5 926 L660.5 947.3 L629.6 932.4 Z" fill="#a9bdd1" stroke="#22262b" stroke-width="1.4" stroke-linejoin="round"/><path d="M660.5 926 L691.4 917 L691.4 932.4 L660.5 947.3 Z" fill="#9cb2c9" stroke="#22262b" stroke-width="1.4" stroke-linejoin="round"/><path d="M629.6 907 L625.8 912.5 L656 922 L660.5 918 Z" fill="#c3d0dc" stroke="#22262b" stroke-width="1.3" stroke-linejoin="round"/><path d="M691.4 907 L695.5 912.5 L665 922 L660.5 918 Z" fill="#c3d0dc" stroke="#22262b" stroke-width="1.3" stroke-linejoin="round"/><path d="M625.8 912.5 L629.6 917 M695.5 912.5 L691.4 917 M656 922 L660.5 926 L665 922" fill="none" stroke="#22262b" stroke-width="1.2"/></svg>
<div class="t" style="top:1056.67px;font-size:19.7px;line-height:24px;color:#111;font-weight:700;left:39px;">How to Apply This to Your Project</div>
<div class="t" style="top:1056.64px;font-size:19.8px;line-height:24px;color:#111;font-weight:700;left:499px;">Summary Table</div>
<div class="a" style="left:27.3px;top:1089px;width:38.2px;height:37.6px;background:#e2e9f0;border:1.5px solid #8a929b;border-radius:7px;box-sizing:border-box;"></div>
<div class="a" style="left:27.3px;top:1132.7px;width:38.2px;height:37.6px;background:#e2e9f0;border:1.5px solid #8a929b;border-radius:7px;box-sizing:border-box;"></div>
<div class="a" style="left:27.3px;top:1176px;width:38.2px;height:37.6px;background:#e2e9f0;border:1.5px solid #8a929b;border-radius:7px;box-sizing:border-box;"></div>
<div class="t" style="top:1094.52px;font-size:13.5px;line-height:14.6px;color:#161616;-webkit-text-stroke:0.3px #161616;left:75.8px;"><b>High-precision analytics:</b> Focus on cleaning &amp;<br>electrolyte purity.</div>
<div class="t" style="top:1137.62px;font-size:13.5px;line-height:14.6px;color:#161616;-webkit-text-stroke:0.3px #161616;left:75.8px;"><b>Long-term corrosion studies:</b> Focus on seal<br>integrity.</div>
<div class="t" style="top:1180.02px;font-size:13.5px;line-height:14.6px;color:#161616;-webkit-text-stroke:0.3px #161616;left:75.8px;"><b>Safety &amp; lifespan:</b> Focus on power-down<br>sequence &amp; storage.</div>
<svg class="a" style="left:380px;top:1060px" width="8" height="160"><path d="M4 2 V152" stroke="#c6c8ca" stroke-width="1.8" stroke-dasharray="3 2.2"/></svg>
<svg class="a" style="left:0;top:1080px" width="768" height="145" viewBox="0 1080 768 145"><path d="M36.1 1122.6 Q36.1 1119 40 1119 L52.7 1119 Q56.6 1119 56.6 1122.6 Z" fill="#6e7378" stroke="#22262b" stroke-width="1.3" stroke-linejoin="round"/><path d="M49 1102.5 Q57 1105 56 1112 Q55 1118 45 1118.5 L42 1118.5" fill="none" stroke="#22262b" stroke-width="3.6" stroke-linecap="round"/><path d="M49 1102.5 Q57 1105 56 1112 Q55 1118 45 1118.5 L42 1118.5" fill="none" stroke="#e3e9ef" stroke-width="1.4" stroke-linecap="round"/><path d="M35.3 1111 L45.2 1113.8 L43.5 1115.5 Z" fill="#6e7378" stroke="#22262b" stroke-width="1.2" stroke-linejoin="round"/><path d="M53.6 1095 L43 1107" stroke="#22262b" stroke-width="5.2" stroke-linecap="round"/><path d="M53.6 1095 L43 1107" stroke="#dfe5eb" stroke-width="2.6" stroke-linecap="round"/><circle cx="45.5" cy="1150.5" r="13.3" fill="#e9eef3" stroke="#22262b" stroke-width="1.6"/><circle cx="45.5" cy="1150.5" r="11.2" fill="none" stroke="#22262b" stroke-width="1.1"/><path d="M45.5 1142.5 V1151.2 L48.6 1152.8" fill="none" stroke="#22262b" stroke-width="1.4"/><path d="M51.5 1157 Q56 1155 59.5 1160 Q58.5 1164.5 54 1165.5 Q50 1163.5 51.5 1157 Z" fill="#6e7378" stroke="#22262b" stroke-width="1.3"/><path d="M46.4 1180.6 Q41 1184 34.6 1184.6 Q34 1199 46.4 1208 Q58.8 1199 58.4 1184.6 Q52 1184 46.4 1180.6 Z" fill="#8ea6bf" stroke="#22262b" stroke-width="1.5" stroke-linejoin="round"/><path d="M40.8 1194.7 L44.3 1197.6 L51.7 1190.9" fill="none" stroke="#22262b" stroke-width="2.8" stroke-linecap="round" stroke-linejoin="round"/><path d="M40.8 1194.7 L44.3 1197.6 L51.7 1190.9" fill="none" stroke="#c9d5e1" stroke-width="1" stroke-linecap="round" stroke-linejoin="round"/><rect x="401.9" y="1088.5" width="338.80000000000007" height="20.200000000000045" fill="#22619c"/><rect x="401.9" y="1136.2" width="338.80000000000007" height="22.299999999999955" fill="#e3e9ef"/><rect x="401.9" y="1185.7" width="338.80000000000007" height="27.700000000000045" fill="#e3e9ef"/><path d="M401.9 1108.7 H740.7 M401.9 1136.2 H740.7 M401.9 1158.5 H740.7 M401.9 1185.7 H740.7 M401.9 1213.4 H740.7 M401.9 1108.7 V1213.4 M740.7 1108.7 V1213.4 M501.4 1088.5 V1213.4 M628 1088.5 V1213.4 " stroke="#8c9196" stroke-width="1.1" fill="none"/></svg>
<div class="t" style="top:1093.70px;left:351.6px;width:200px;text-align:center;font-size:11.4px;line-height:10.5px;color:#fff;transform:scaleX(0.86);font-weight:700;">Maintenance Area</div>
<div class="t" style="top:1093.70px;left:464.70000000000005px;width:200px;text-align:center;font-size:11.4px;line-height:10.5px;color:#fff;transform:scaleX(0.86);font-weight:700;">Key Action</div>
<div class="t" style="top:1093.70px;left:584.4px;width:200px;text-align:center;font-size:11.4px;line-height:10.5px;color:#fff;transform:scaleX(0.86);font-weight:700;">Purpose</div>
<div class="t" style="top:1117.10px;left:351.6px;width:200px;text-align:center;font-size:11.4px;line-height:10.5px;color:#161616;transform:scaleX(0.86);-webkit-text-stroke:0.35px #161616;">Proactive Routine</div>
<div class="t" style="top:1111.60px;left:464.70000000000005px;width:200px;text-align:center;font-size:11.4px;line-height:10.5px;color:#161616;transform:scaleX(0.86);-webkit-text-stroke:0.35px #161616;">Visual inspection, cleaning,<br>management</div>
<div class="t" style="top:1117.10px;left:584.4px;width:200px;text-align:center;font-size:11.4px;line-height:10.5px;color:#161616;transform:scaleX(0.86);-webkit-text-stroke:0.35px #161616;">Prevent issues</div>
<div class="t" style="top:1140.90px;left:351.6px;width:200px;text-align:center;font-size:11.4px;line-height:10.5px;color:#161616;transform:scaleX(0.86);-webkit-text-stroke:0.35px #161616;">Active Experiment</div>
<div class="t" style="top:1140.90px;left:464.70000000000005px;width:200px;text-align:center;font-size:11.4px;line-height:10.5px;color:#161616;transform:scaleX(0.86);-webkit-text-stroke:0.35px #161616;">Verify, moniter, address</div>
<div class="t" style="top:1140.90px;left:584.4px;width:200px;text-align:center;font-size:11.4px;line-height:10.5px;color:#161616;transform:scaleX(0.86);-webkit-text-stroke:0.35px #161616;">Protect integrity</div>
<div class="t" style="top:1166.30px;left:351.6px;width:200px;text-align:center;font-size:11.4px;line-height:10.5px;color:#161616;transform:scaleX(0.86);-webkit-text-stroke:0.35px #161616;">Critical Components</div>
<div class="t" style="top:1161.10px;left:464.70000000000005px;width:200px;text-align:center;font-size:11.4px;line-height:10.5px;color:#161616;transform:scaleX(0.86);-webkit-text-stroke:0.35px #161616;">Electrode cleaning, seal<br>Inspection</div>
<div class="t" style="top:1166.30px;left:584.4px;width:200px;text-align:center;font-size:11.4px;line-height:10.5px;color:#161616;transform:scaleX(0.86);-webkit-text-stroke:0.35px #161616;">Maintain performance</div>
<div class="t" style="top:1193.60px;left:351.6px;width:200px;text-align:center;font-size:11.4px;line-height:10.5px;color:#161616;transform:scaleX(0.86);-webkit-text-stroke:0.35px #161616;">Post-Experiment</div>
<div class="t" style="top:1188.10px;left:464.70000000000005px;width:200px;text-align:center;font-size:11.4px;line-height:10.5px;color:#161616;transform:scaleX(0.86);-webkit-text-stroke:0.35px #161616;">Power-down, handling,<br>storage</div>
<div class="t" style="top:1193.60px;left:584.4px;width:200px;text-align:center;font-size:11.4px;line-height:10.5px;color:#161616;transform:scaleX(0.86);-webkit-text-stroke:0.35px #161616;">Ensure safety &amp; lifespan</div>
<div class="a" style="left:0px;top:1225.5px;width:768px;height:112px;background:#b8252b;"></div>
<div class="t" style="top:1234.53px;font-size:21.56px;line-height:26px;color:#fff;font-weight:700;left:34.30px;width:700px;text-align:center;">Achieve Uncompromised Data Integrity with KINTEK</div>
<div class="t" style="top:1261.74px;font-size:15.9px;line-height:17.1px;color:#fff;-webkit-text-stroke:0.3px #fff;left:34.50px;width:700px;text-align:center;">KINTEK specializes in high-quality electrochemical cells and accessories. Our experts<br>can help you select equipment and establish best-practice routines.</div>
<div class="a" style="left:290px;top:1304.7px;width:187.6px;height:22px;background:linear-gradient(#e4e7ea,#cdd3d8);border-radius:8px;box-shadow:0 0 0 1px #e9c9ca, 0 1px 2px rgba(0,0,0,.3);"></div>
<div class="t" style="top:1306.50px;font-size:15.3px;line-height:18px;color:#111;font-weight:700;left:298.6px;">Contact our team today</div>
<svg class="a" style="left:460px;top:1310px" width="40" height="30" viewBox="460 1310 40 30"><path d="M473.5 1320.2 Q475.5 1318.8 477 1320.6 L480.6 1325.6 Q481.6 1323.6 483.6 1324.6 Q485 1323.2 486.6 1324.8 L488.2 1328.6 Q489 1332.5 485.5 1334.6 Q482 1336 479 1334.2 L476.5 1332 L474.2 1328.4 Q473.5 1327 475.3 1326.6 L476.8 1327.6 L473.2 1322.2 Q472.6 1321 473.5 1320.2 Z" fill="#f4f6f8" stroke="#1b1b1b" stroke-width="1.3" stroke-linejoin="round"/></svg>
<div class="t" style="top:1344.68px;font-size:21.7px;line-height:26px;color:#111;font-weight:700;left:234.10px;width:300px;text-align:center;">kindle-tech.com</div>
</body></html>
